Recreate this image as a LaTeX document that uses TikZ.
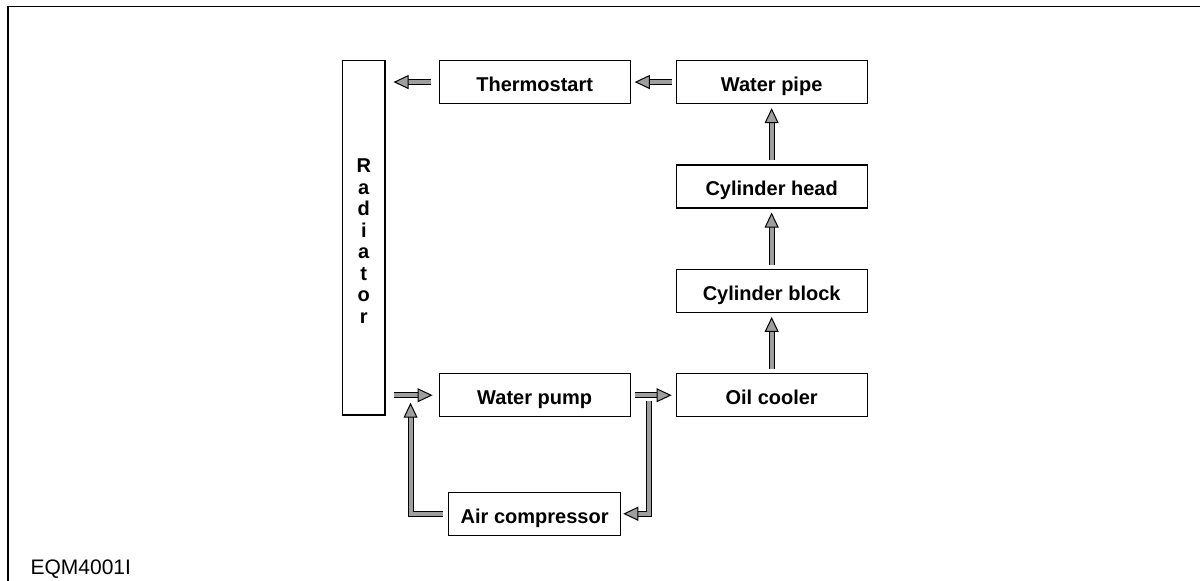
\documentclass[tikz,border=0pt]{standalone}
\usepackage{fontspec}
\setmainfont{Liberation Sans}
\usetikzlibrary{arrows.meta, positioning}

\begin{document}
\begin{tikzpicture}[
            auto,
            on grid,
            node distance = 52.2pt and 118.5pt,
            semithick,
            flow/.style={
                double=black!38,
                double distance=2pt,
                line width=0.5pt,
                shorten <=2pt,
                shorten >=2pt,
                -{Triangle[length=7.5pt, width=7pt, fill=black!38]}
            }
        ]

        \tikzstyle{box}=[
            draw,
            line width=0.6pt,
            shape=rectangle,
            minimum width=95.5pt,
            minimum height=21.5pt,
            text height=9.6pt,
            text depth=0.2pt,
            font=\fontsize{10}{10.75}\selectfont\bfseries
        ]

        \useasboundingbox (0,0) rectangle (600pt,-290.5pt);

        % frame and figure code
        \coordinate (corner) at (4pt,-3.25pt);
        \draw[line width=0.9pt] (corner |- 0,-290.5pt) -- (corner) -- (corner -| 600pt,0);
        \node[anchor=base west, inner sep=0pt, font=\fontsize{10.5}{12}\selectfont] (code) at (15pt,-287.5pt) {EQM4001I};

        % cooling circuit
        \node[box, align=center, text height=85.4pt, text depth=0pt, inner ysep=0pt, minimum width=21.15pt, minimum height=177.25pt] (rad) at (181.9pt,-118.9pt) {R\\a\\d\\i\\a\\t\\o\\r};
        \node[box, anchor=north west] (thermo) at ([xshift=26.5pt]rad.north east) {Thermostart};
        \node[box] (wpipe) [right=of thermo] {Water pipe};
        \node[box] (head) [below=of wpipe] {Cylinder head};
        \node[box] (block) [below=of head] {Cylinder block};
        \node[box] (oil) [below=of block] {Oil cooler};
        \node[box] (pump) [left=of oil] {Water pump};
        \node[box, minimum width=86pt] (aircomp) [below=59.25pt of pump] {Air compressor};

        \draw[flow] (wpipe) -- (thermo);
        \draw[flow, shorten <=4pt, shorten >=4pt] (thermo.west) -- (thermo.west -| rad.east);
        \draw[flow] (head) -- (wpipe);
        \draw[flow] (block) -- (head);
        \draw[flow] (oil) -- (block);
        \draw[flow] (pump) -- (oil);
        \draw[flow, shorten <=4pt, shorten >=3pt] (pump.west -| rad.east) -- (pump.west);

        % branch through the air compressor
        \coordinate (split) at ([xshift=9pt,yshift=-3.1pt]pump.east);
        \coordinate (merge) at ([xshift=-14pt,yshift=-3.75pt]pump.west);
        \draw[flow, shorten <=0pt, shorten >=1pt] (split) |- (aircomp.east);
        \draw[flow, shorten <=2.5pt, shorten >=0pt] (aircomp.west) -| (merge);

    \end{tikzpicture}
\end{document}
